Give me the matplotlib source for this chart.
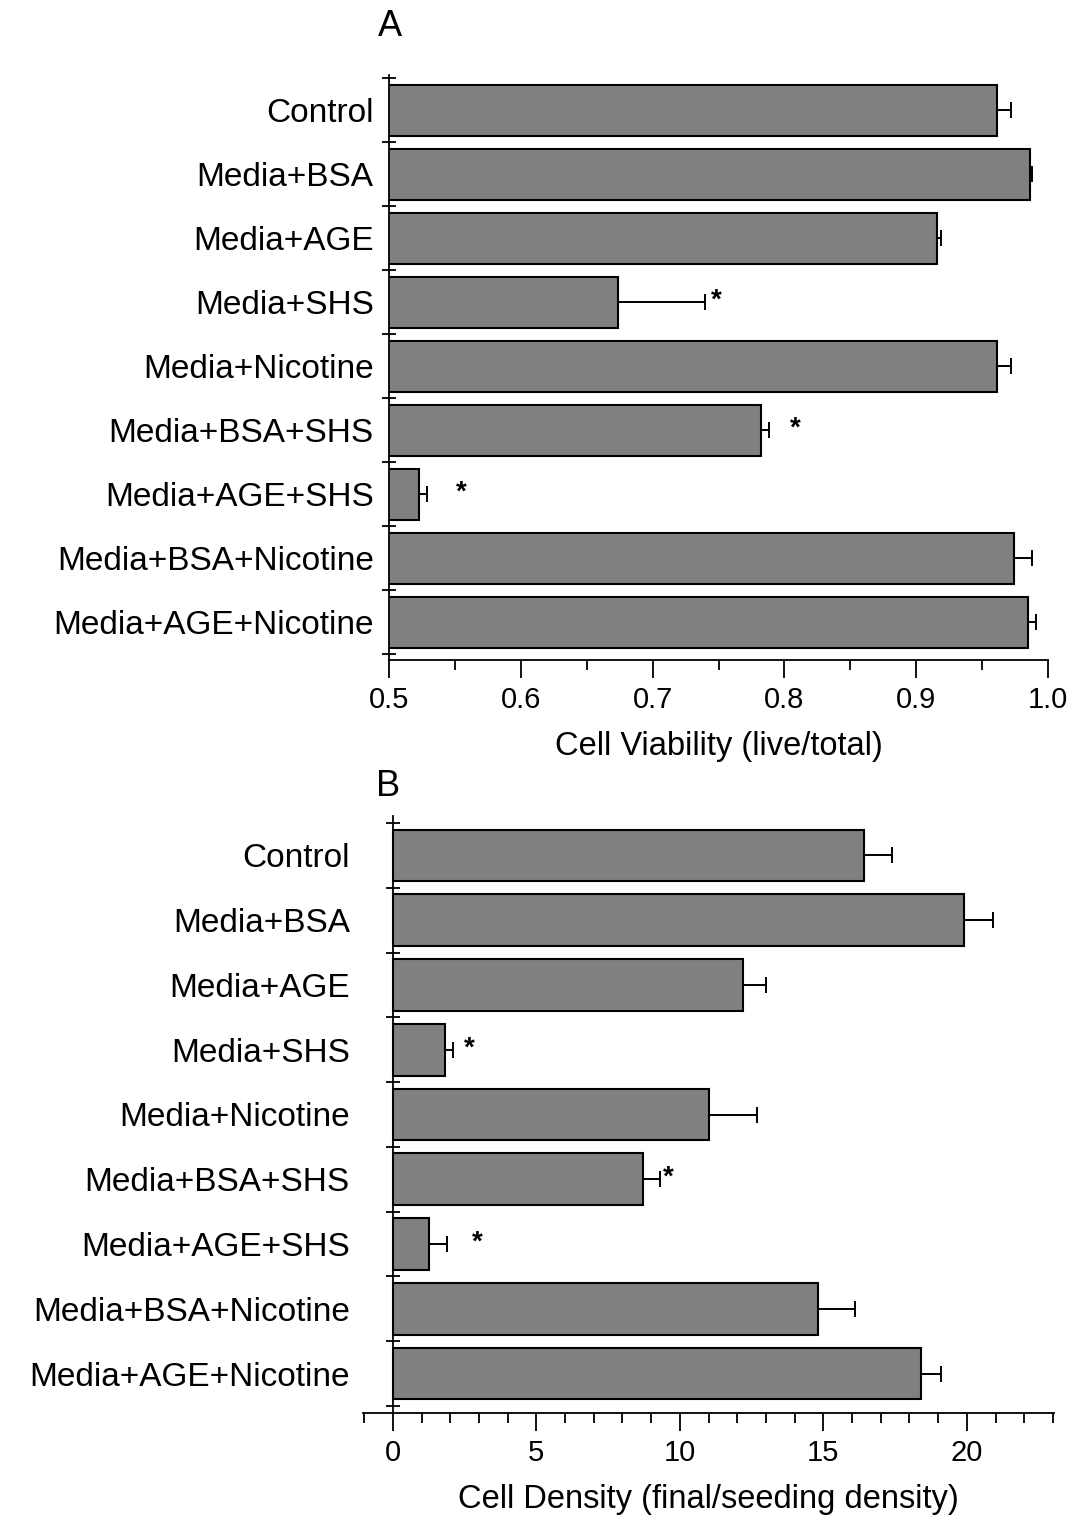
import numpy as np
import matplotlib
matplotlib.use("Agg")
import matplotlib.pyplot as plt
from matplotlib.ticker import MultipleLocator, FixedLocator

plt.rcParams['font.family'] = ['Liberation Sans', 'DejaVu Sans']

groups = ['Control', 'Media+BSA', 'Media+AGE', 'Media+SHS', 'Media+Nicotine',
          'Media+BSA+SHS', 'Media+AGE+SHS', 'Media+BSA+Nicotine', 'Media+AGE+Nicotine']

# panel A: cell viability (live/total)
viability = [0.961, 0.986, 0.916, 0.674, 0.961, 0.782, 0.523, 0.974, 0.985]
viability_err = [0.011, 0.002, 0.003, 0.066, 0.011, 0.006, 0.006, 0.014, 0.006]
viability_sig = [3, 5, 6]
viability_star_x = [0.748, 0.808, 0.555]

# panel B: cell density (final/seeding density)
density = [16.4, 19.9, 12.2, 1.8, 11.0, 8.7, 1.25, 14.8, 18.4]
density_err = [1.0, 1.0, 0.8, 0.3, 1.7, 0.6, 0.65, 1.3, 0.7]
density_sig = [3, 5, 6]
density_star_x = [2.65, 9.6, 2.95]

W, H = 1072, 1519
fig = plt.figure(figsize=(W / 100, H / 100), dpi=100)


def draw_panel(ax, values, errs, sig, star_x, xlabel, label_pad, spine_at=None):
    if spine_at is not None:
        # spine moved first, it resets the ticks
        ax.spines['left'].set_position(('data', spine_at))
    y = np.arange(len(groups))
    ax.barh(y, values, height=0.8, color='#808080', edgecolor='black', linewidth=1.5, zorder=2)
    ax.errorbar(values, y, xerr=[np.zeros(len(errs)), errs], fmt='none', ecolor='black',
                elinewidth=1.4, capsize=6, capthick=1.4, zorder=3)
    for i, sx in zip(sig, star_x):
        ax.text(sx, i - 0.02, '*', ha='center', va='center', fontsize=20, fontweight='bold')
    ax.set_yticks(y)
    ax.set_yticklabels(groups)
    ax.yaxis.set_minor_locator(FixedLocator(np.arange(-0.5, len(groups), 1.0)))
    ax.tick_params(axis='y', which='major', length=0, pad=label_pad, labelsize=24)
    ax.tick_params(axis='y', which='minor', direction='inout', length=10, width=1.3)
    ax.tick_params(axis='x', which='major', direction='out', length=13, width=1.3,
                   labelsize=21, pad=6)
    ax.tick_params(axis='x', which='minor', direction='out', length=7, width=1.3)
    ax.spines['top'].set_visible(False)
    ax.spines['right'].set_visible(False)
    ax.spines['left'].set_linewidth(1.3)
    ax.spines['bottom'].set_linewidth(1.3)
    ax.set_xlabel(xlabel, fontsize=23.5, labelpad=12)


# Panel A
ax1 = fig.add_axes([389 / W, 1 - 660 / H, 659 / W, 585 / H])
draw_panel(ax1, viability, viability_err, viability_sig, viability_star_x,
           'Cell Viability (live/total)', 11)
ax1.set_xlim(0.5, 1.0)
ax1.set_ylim(8.59, -0.55)
ax1.set_xticks(np.arange(0.5, 1.01, 0.1))
ax1.set_xticklabels(['0.5', '0.6', '0.7', '0.8', '0.9', '1.0'])
ax1.xaxis.set_minor_locator(MultipleLocator(0.05))

# Panel B
ax2 = fig.add_axes([362.5 / W, 1 - 1413 / H, 691 / W, 597 / H])
draw_panel(ax2, density, density_err, density_sig, density_star_x,
           'Cell Density (final/seeding density)', 31, spine_at=0)
ax2.set_xlim(-1.06, 23.02)
ax2.set_ylim(8.61, -0.61)
ax2.set_xticks([0, 5, 10, 15, 20])
ax2.xaxis.set_minor_locator(MultipleLocator(1))

fig.text(390 / W, 1 - 27 / H, 'A', fontsize=26, ha='center', va='center')
fig.text(388 / W, 1 - 786 / H, 'B', fontsize=26, ha='center', va='center')

fig.savefig('out.png', dpi=100)
